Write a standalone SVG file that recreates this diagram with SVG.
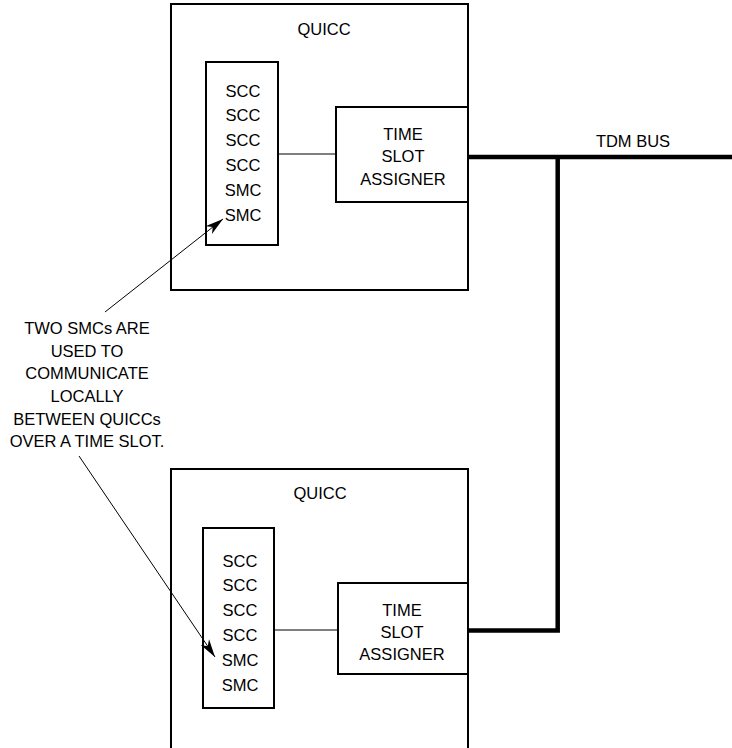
<svg xmlns="http://www.w3.org/2000/svg" width="732" height="748" viewBox="0 0 732 748">
<style>
text{font-family:"Liberation Sans",Arial,sans-serif;font-size:16.5px;fill:#000;text-anchor:middle}
.box{fill:none;stroke:#000;stroke-width:2}
.thin{fill:none;stroke:#000;stroke-width:1}
.bus{fill:none;stroke:#000;stroke-width:4.5}
</style>
<defs>
<marker id="ah" markerWidth="20" markerHeight="12" refX="18" refY="5.5" orient="auto" markerUnits="userSpaceOnUse">
<path d="M0,0.5 L18,5.5 L0,10.5 L5,5.5 z" fill="#000"/>
</marker>
</defs>
<rect width="732" height="748" fill="#fff"/>
<g id="quicc-top">
<rect class="box" x="171" y="4" width="297" height="286"/>
<text x="324" y="35">QUICC</text>
</g>
<g id="channels-top">
<rect class="box" x="206" y="62" width="72" height="183"/>
<text x="243" y="97">SCC</text>
<text x="243" y="121">SCC</text>
<text x="243" y="146">SCC</text>
<text x="243" y="171">SCC</text>
<text x="243" y="196">SMC</text>
<text x="243" y="221">SMC</text>
</g>
<g id="tsa-top">
<rect class="box" x="336" y="107" width="132" height="95"/>
<text x="403" y="140">TIME</text>
<text x="403" y="162">SLOT</text>
<text x="403" y="185">ASSIGNER</text>
</g>
<g id="quicc-bottom">
<rect class="box" x="171" y="469" width="297" height="300"/>
<text x="320" y="499">QUICC</text>
</g>
<g id="channels-bottom">
<rect class="box" x="203" y="528" width="71" height="180"/>
<text x="240" y="567">SCC</text>
<text x="240" y="591">SCC</text>
<text x="240" y="616">SCC</text>
<text x="240" y="641">SCC</text>
<text x="240" y="666">SMC</text>
<text x="240" y="691">SMC</text>
</g>
<g id="tsa-bottom">
<rect class="box" x="338" y="583" width="130" height="91"/>
<text x="402" y="616">TIME</text>
<text x="402" y="638">SLOT</text>
<text x="402" y="660">ASSIGNER</text>
</g>
<g id="tdm-bus">
<text x="633" y="147">TDM BUS</text>
</g>
<g id="note">
<text x="87" y="334">TWO SMCs ARE</text>
<text x="87" y="357">USED TO</text>
<text x="87" y="379">COMMUNICATE</text>
<text x="87" y="402">LOCALLY</text>
<text x="87" y="425">BETWEEN QUICCs</text>
<text x="87" y="447">OVER A TIME SLOT.</text>
</g>
<g id="connectors">
<line class="thin" x1="278" y1="154" x2="336" y2="154"/>
<line class="thin" x1="274" y1="630" x2="338" y2="630"/>
<path class="bus" d="M468,157 H732 M557.7,157 V630.5 H468"/>
<line class="thin" x1="105" y1="312" x2="223" y2="219" marker-end="url(#ah)"/>
<line class="thin" x1="79" y1="456" x2="215" y2="657" marker-end="url(#ah)"/>
</g>
</svg>
